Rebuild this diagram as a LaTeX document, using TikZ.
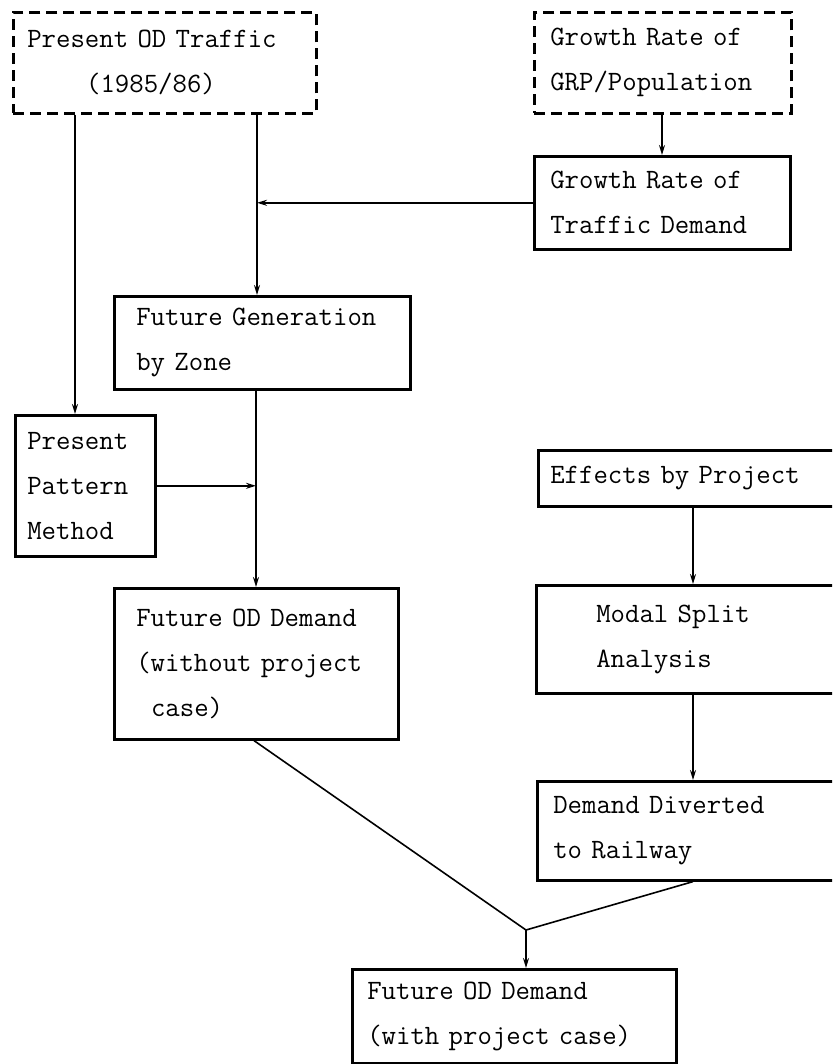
\documentclass[tikz,border=0pt]{standalone}
\usetikzlibrary{arrows.meta}
\begin{document}
\begin{tikzpicture}[x=1pt,y=-1pt,
  box/.style={draw=black, line width=2.6pt, rectangle, anchor=north west, align=left,
    font=\ttfamily\fontsize{28}{45}\selectfont, inner ysep=0pt},
  dbox/.style={box, dash pattern=on 11pt off 6pt},
  link/.style={draw=black, line width=1.6pt},
  arr/.style={link, -{Stealth[length=10pt,width=6pt]}}
]
\useasboundingbox (0,0) rectangle (832,1064);
\clip (0,0) rectangle (832,1064);
\fill[white] (0,0) rectangle (832,1064);

% boxes: anchor north west at (x1,y1), width = text width + 2*pad
\node[dbox, inner xsep=14pt, text width=275pt, minimum height=101pt] (podt) at (12,11)
  {Present OD Traffic\\\hspace*{2.1em}(1985/86)};
\node[dbox, inner xsep=16pt, text width=225pt, minimum height=101pt] (grp) at (533,11)
  {Growth Rate of\\GRP/Population};
\node[box, inner xsep=16pt, text width=224pt, minimum height=93pt] (grtd) at (533,155)
  {Growth Rate of\\Traffic Demand};
\node[box, inner xsep=22pt, text width=252pt, minimum height=93pt] (fgz) at (113,295)
  {Future Generation\\by Zone};
\node[box, inner xsep=12pt, text width=116pt, minimum height=141pt] (ppm) at (14,414)
  {Present\\Pattern\\Method};
\node[box, inner xsep=22pt, text width=240pt, minimum height=151pt] (fodwo) at (113,587)
  {Future OD Demand\\(without project\\\hspace*{0.525em}case)};
\node[box, inner xsep=12pt, text width=290pt, minimum height=56pt] (eff) at (537,449)
  {Effects by Project};
\node[box, inner xsep=60pt, text width=200pt, minimum height=108pt] (msa) at (535,584)
  {Modal Split\\Analysis};
\node[box, inner xsep=16pt, text width=280pt, minimum height=99pt] (dd) at (536,780)
  {Demand Diverted\\to Railway};
\node[box, inner xsep=15pt, text width=294pt, minimum height=94pt] (fin) at (351,968)
  {Future OD Demand\\(with project case)};

% column coordinates
\coordinate (cA) at (75,0);
\coordinate (cB) at (257,0);
\coordinate (cB2) at (256,0);
\coordinate (cC) at (662,0);
\coordinate (cD) at (693,0);
\coordinate (j) at (526,930);
\coordinate (cE) at (254,0);

% connectors
\draw[arr] (podt.south -| cA) -- (ppm.north -| cA);
\draw[arr] (podt.south -| cB) -- (fgz.north -| cB);
\draw[arr] (grp.south -| cC) -- (grtd.north -| cC);
\draw[arr] (grtd.west) -- (grtd.west -| cB);
\draw[arr] (fgz.south -| cB2) -- (fodwo.north -| cB2);
\draw[arr] (ppm.east) -- (ppm.east -| cB2);
\draw[arr] (eff.south -| cD) -- (msa.north -| cD);
\draw[arr] (msa.south -| cD) -- (dd.north -| cD);
\draw[link] (fodwo.south -| cE) -- (j);
\draw[link] (dd.south -| cD) -- (j);
\draw[arr] (j) -- (fin.north -| j);
\end{tikzpicture}
\end{document}
